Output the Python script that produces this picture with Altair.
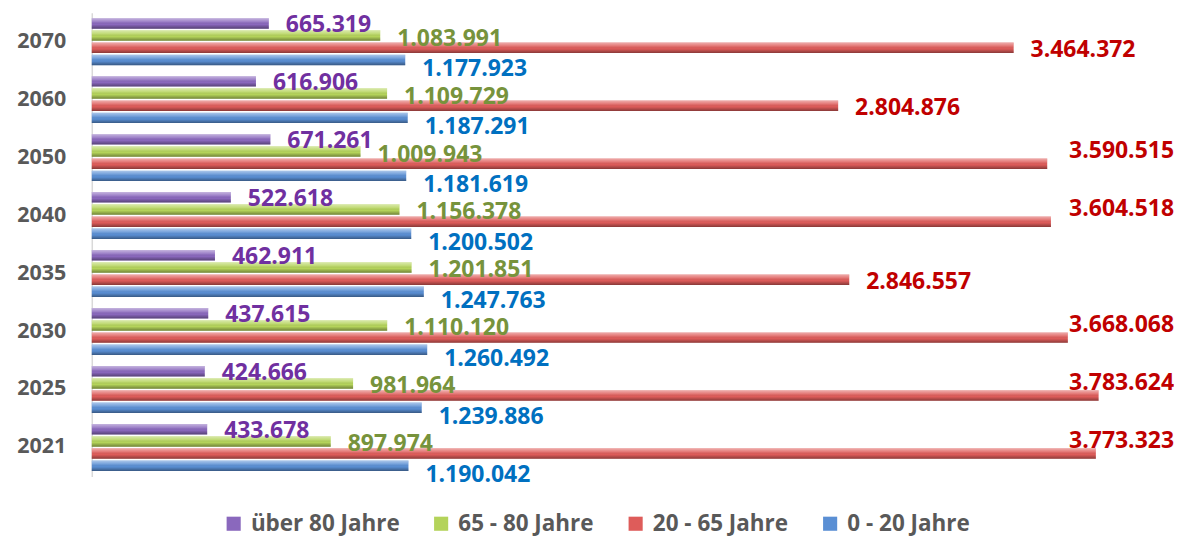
import altair as alt
import pandas as pd

years = ["2021", "2025", "2030", "2035", "2040", "2050", "2060", "2070"]
series = ["über 80 Jahre", "65 - 80 Jahre", "20 - 65 Jahre", "0 - 20 Jahre"]
ueber80 = [433678, 424666, 437615, 462911, 522618, 671261, 616906, 665319]
a65_80 = [897974, 981964, 1110120, 1201851, 1156378, 1009943, 1109729, 1083991]
a20_65 = [3773323, 3783624, 3668068, 2846557, 3604518, 3590515, 2804876, 3464372]
a0_20 = [1190042, 1239886, 1260492, 1247763, 1200502, 1181619, 1187291, 1177923]

bar_colors = ["#8a68bd", "#b4d35a", "#de5c5a", "#5a8fd4"]
label_colors = ["#7030a0", "#77933c", "#c00000", "#0070c0"]

rows = []
for s, vals in zip(series, [ueber80, a65_80, a20_65, a0_20]):
    for y, v in zip(years, vals):
        rows.append({"year": y, "series": s, "value": v,
                     "label": f"{v:,}".replace(",", ".")})
df = pd.DataFrame(rows)

W, H = 1085, 465
FONT = "Open Sans"
xmax = 4067000

Y = alt.Y("year:N", sort=years[::-1],
          scale=alt.Scale(paddingInner=0.19, paddingOuter=0.095),
          axis=alt.Axis(title=None, ticks=False, labelFontSize=21.5, labelFontWeight="bold",
                        labelColor="#595959", labelFont=FONT, labelPadding=26,
                        domainColor="#d9d9d9", domainWidth=1.5))
YO = alt.YOffset("series:N", sort=series, scale=alt.Scale(paddingInner=0.14))
X = alt.X("value:Q", scale=alt.Scale(domain=[0, xmax], nice=False), axis=None)

base = alt.Chart(df)

bars = base.mark_bar().encode(
    y=Y, yOffset=YO, x=X,
    color=alt.Color("series:N", sort=series,
                    scale=alt.Scale(domain=series, range=bar_colors),
                    legend=alt.Legend(title=None, orient="none", direction="horizontal",
                                      legendX=131, legendY=501, symbolType="square",
                                      symbolSize=200, symbolStrokeWidth=0, symbolOpacity=1,
                                      labelFontSize=22.5, labelFontWeight="bold",
                                      labelColor="#595959", labelFont=FONT,
                                      columnPadding=30, labelOffset=6)),
)

shade = alt.Gradient(
    gradient="linear", x1=0, x2=0, y1=0, y2=1,
    stops=[alt.GradientStop(color="rgba(255,255,255,0.5)", offset=0),
           alt.GradientStop(color="rgba(255,255,255,0.15)", offset=0.35),
           alt.GradientStop(color="rgba(0,0,0,0)", offset=0.6),
           alt.GradientStop(color="rgba(0,0,0,0.38)", offset=1)])
overlay = base.mark_bar(fill=shade).encode(y=Y, yOffset=YO, x=X)

layers = [bars, overlay]
CLAMP = 3550000
dys = [2, 3, 2, 9]
for s, c, d in zip(series, label_colors, dys):
    t = base.transform_filter(
        (alt.datum.series == s) & (alt.datum.value <= CLAMP)
    ).mark_text(align="left", baseline="middle", dx=17, dy=d, fontSize=23,
                fontWeight="bold", font=FONT, color=c).encode(
        y=Y, yOffset=YO, x=X, text="label:N")
    layers.append(t)

clamped = base.transform_filter(alt.datum.value > CLAMP).mark_text(
    align="right", baseline="middle", dy=-13, fontSize=23, fontWeight="bold",
    font=FONT, color=label_colors[2]).encode(
    y=Y, yOffset=YO, x=alt.value(W), text="label:N")
layers.append(clamped)

chart = alt.layer(*layers).properties(
    width=W, height=H,
    autosize=alt.AutoSizeParams(type="none"),
    padding={"left": 84, "top": 4, "right": 0, "bottom": 62},
).configure_view(stroke=None)

chart.save("out.html", embed_options={"renderer": "svg", "actions": False})
